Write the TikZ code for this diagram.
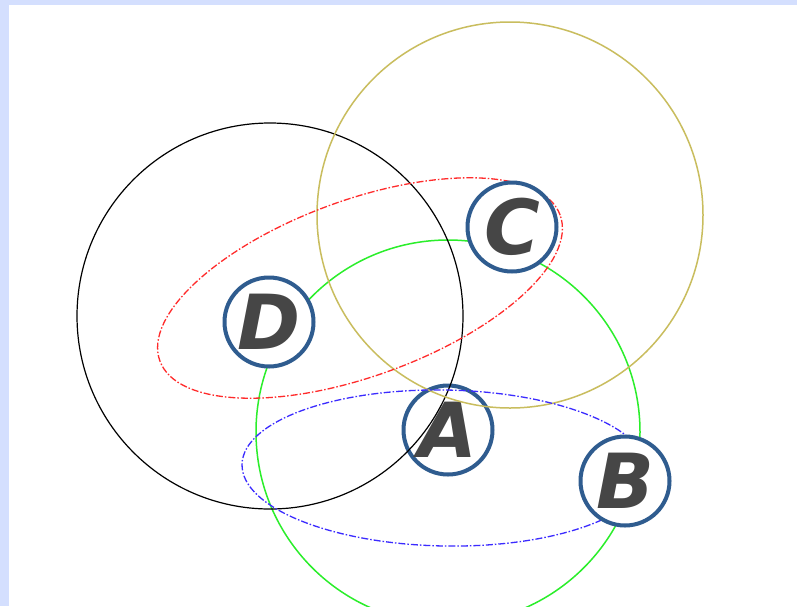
\documentclass[tikz,border=0pt]{standalone}
\usepackage{fontspec}
\newfontfamily\handfont{DejaVu Sans}
\definecolor{bgblue}{HTML}{D4DFFE}
\definecolor{nodeblue}{HTML}{2F5C8F}
\definecolor{lettergray}{HTML}{464646}
\definecolor{olive}{HTML}{C9BD5E}
\definecolor{brightgreen}{HTML}{2BEE2B}
\definecolor{dashred}{HTML}{FF2B2B}
\definecolor{dashblue}{HTML}{3B2BFF}
\tikzset{
  vnode/.style={circle, draw=nodeblue, line width=4pt, fill=white,
    minimum size=89pt, inner sep=0pt, text=lettergray,
    font=\handfont\bfseries\itshape\fontsize{76}{76}\selectfont},
  ring/.style={line width=1.5pt},
  dashring/.style={line width=1.3pt, dash pattern=on 7pt off 2pt on 1.5pt off 2pt}
}
\begin{document}
\begin{tikzpicture}[x=1pt,y=-1pt]
\useasboundingbox (0,0) rectangle (797,606);
\fill[bgblue] (0,0) rectangle (797,606);
\fill[white] (9,5) rectangle (797,606);
% green circle
\draw[ring, brightgreen] (448,432) circle [radius=192pt];
% A node
\node[vnode] (A) at (448,430) {A};
% black and olive circles
\draw[ring, black, line width=1.2pt] (270,316) circle [radius=193pt];
\draw[ring, olive] (510,215) circle [radius=193pt];
% blue dashed ellipse
\draw[dashring, dashblue, rotate around={-1:(445,468)}] (445,468) ellipse [x radius=203pt, y radius=78pt];
% red dashed ellipse
\draw[dashring, dashred, rotate around={20:(360,288)}] (360,288) ellipse [x radius=213pt, y radius=88pt];
% other nodes
\node[vnode] (C) at (512,227) {C};
\node[vnode] (D) at (269,322) {D};
\node[vnode] (B) at (625,481) {B};
\end{tikzpicture}
\end{document}
